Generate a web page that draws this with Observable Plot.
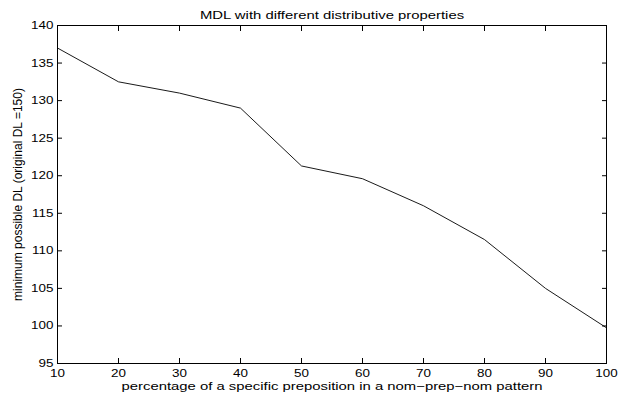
<!DOCTYPE html>
<html>
<head>
<meta charset="utf-8">
<script src="https://cdn.jsdelivr.net/npm/d3@7"></script>
<script src="https://cdn.jsdelivr.net/npm/@observablehq/plot@0.6"></script>
<style>
  html, body { margin: 0; padding: 0; background: #fff; }
  #chart { width: 620px; height: 400px; }
</style>
</head>
<body>
<div id="chart"></div>
<script>
// ---- data ----
const percentages = [10, 20, 30, 40, 50, 60, 70, 80, 90, 100];
const minDL = [137, 132.5, 131, 129, 121.3, 119.6, 116, 111.5, 105, 99.75];
const xTicks = [10, 20, 30, 40, 50, 60, 70, 80, 90, 100];
const yTicks = [95, 100, 105, 110, 115, 120, 125, 130, 135, 140];
const titleText = "MDL with different distributive properties";
const xLabelText = "percentage of a specific preposition in a nom\u2212prep\u2212nom pattern";
const yLabelText = "minimum possible DL (original DL =150)";

const rows = percentages.map((p, i) => ({ p, dl: minDL[i] }));
const font = "Helvetica, Arial, 'Liberation Sans', sans-serif";
const blank = () => "";

const chart = Plot.plot({
  width: 620,
  height: 400,
  marginLeft: 57,
  marginRight: 14,
  marginTop: 25,
  marginBottom: 37,
  style: { fontFamily: font, fontSize: "11px", background: "#fff", color: "#000" },
  x: { domain: [10, 100] },
  y: { domain: [95, 140] },
  marks: [
    // tick labels
    Plot.axisX(xTicks, { anchor: "bottom", tickSize: 0, tickPadding: 5.5, label: null }),
    Plot.axisY(yTicks, { anchor: "left", tickSize: 0, tickPadding: 4, label: null }),
    // inward tick marks on all four sides
    Plot.axisX(xTicks, { anchor: "bottom", tickSize: 5, dy: -5, tickFormat: blank, label: null }),
    Plot.axisX(xTicks, { anchor: "top", tickSize: 5, dy: 5, tickFormat: blank, label: null }),
    Plot.axisY(yTicks, { anchor: "left", tickSize: 5, dx: 5, tickFormat: blank, label: null }),
    Plot.axisY(yTicks, { anchor: "right", tickSize: 5, dx: -5, tickFormat: blank, label: null }),
    Plot.frame({ stroke: "#000", strokeWidth: 1 }),
    Plot.line(rows, { x: "p", y: "dl", stroke: "#000", strokeWidth: 0.9 }),
    // titles
    Plot.text([titleText], { frameAnchor: "top", dy: -14, fontSize: 11, fill: "#000", className: "stretch" }),
    Plot.text([xLabelText], { frameAnchor: "bottom", dy: 26, fontSize: 11, fill: "#000", className: "stretch" }),
    Plot.text([yLabelText], { frameAnchor: "left", textAnchor: "middle", dx: -39, rotate: -90, fontSize: 12, fill: "#000" })
  ]
});

document.getElementById("chart").appendChild(chart);

// the reference's lettering is horizontally widened; widen horizontal texts to match
function widen(selector, k) {
  chart.querySelectorAll(selector).forEach(t => {
    const len = t.getComputedTextLength();
    if (len > 0) {
      t.setAttribute("textLength", (len * k).toFixed(2));
      t.setAttribute("lengthAdjust", "spacingAndGlyphs");
    }
  });
}
widen('g[aria-label="x-axis tick label"] text, g[aria-label="y-axis tick label"] text', 1.22);
widen('g.stretch text', 1.35);
</script>
</body>
</html>
